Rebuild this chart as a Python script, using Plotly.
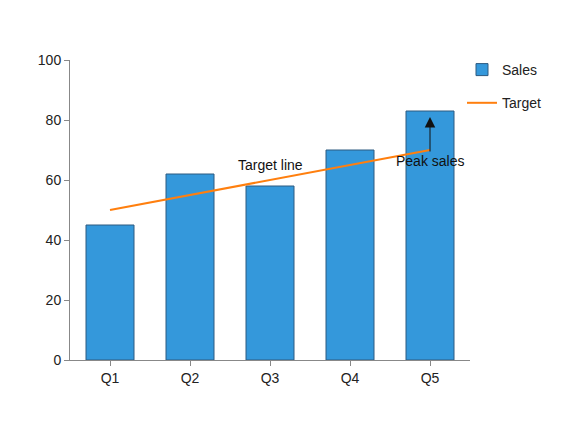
import plotly.graph_objects as go

quarters = ["Q1", "Q2", "Q3", "Q4", "Q5"]
sales = [45, 62, 58, 70, 83]
target = [50, 55, 60, 65, 70]
y_ticks = [0, 20, 40, 60, 80, 100]

font = dict(family="Liberation Sans, Arial, sans-serif", size=14, color="#222222")

fig = go.Figure()
fig.add_trace(go.Bar(
    x=quarters, y=sales, name="Sales", width=0.6,
    marker=dict(color="#3498db", line=dict(color="#2c5a80", width=1)),
    legendgroup="a",
))
fig.add_trace(go.Scatter(
    x=quarters, y=target, name="Target", mode="lines",
    line=dict(color="#ff7f0e", width=2),
    legendgroup="b",
))

fig.add_annotation(x="Q3", y=65, text="Target line", showarrow=False,
                   font=dict(family=font["family"], size=14, color="#111111"))
fig.add_annotation(x="Q5", y=81, text="Peak sales", showarrow=True,
                   arrowhead=2, arrowsize=2.1, arrowwidth=1, arrowcolor="#111111",
                   ax=0, ay=44,
                   font=dict(family=font["family"], size=14, color="#111111"))

fig.update_layout(
    width=579, height=422,
    margin=dict(l=62, r=117, t=52, b=70),
    plot_bgcolor="white", paper_bgcolor="white",
    font=font,
    showlegend=True,
    legend=dict(x=0.98, y=1.02, xanchor="left", yanchor="top",
                tracegroupgap=12, font=dict(size=14),
                bgcolor="rgba(0,0,0,0)"),
    bargap=0.4,
)
fig.update_xaxes(showline=True, linecolor="#888888", linewidth=1,
                 ticks="outside", ticklen=5, tickcolor="#888888",
                 showgrid=False, zeroline=False)
fig.update_yaxes(range=[0, 100], tickvals=y_ticks, showline=True,
                 linecolor="#888888", linewidth=1, ticks="outside", ticklen=5,
                 tickcolor="#888888", showgrid=False, zeroline=False)

fig.write_html("out.html")
